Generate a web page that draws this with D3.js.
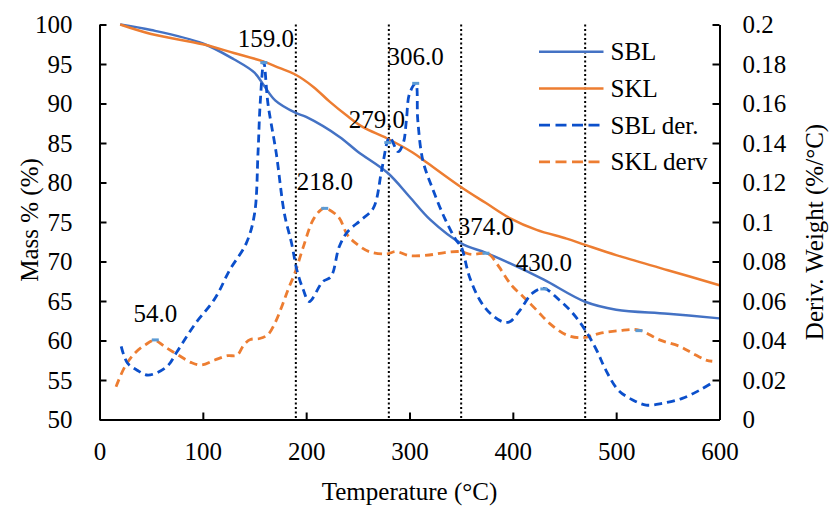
<!DOCTYPE html>
<html>
<head>
<meta charset="utf-8">
<script src="https://cdn.jsdelivr.net/npm/d3@7"></script>
<style>
    body { margin: 0; background: #fff; }
    text { font-family: "Liberation Serif", "Times New Roman", Times, "DejaVu Serif", "Noto Serif", serif; fill: #000; }
</style>
</head>
<body>
<div id="svg-container"></div>
<script>
// mass curves (TG)
var sblTemp = [20, 50, 100, 130, 150, 159, 170, 190, 200, 232, 250, 279, 300, 320, 350, 374, 400, 430, 470, 500, 550, 600];
var sblMass = [100, 99.3, 97.6, 95.6, 93.9, 92.3, 90.4, 88.8, 88.3, 85.8, 83.9, 81.2, 78.2, 75.3, 72.3, 71.1, 69.6, 67.7, 64.9, 63.9, 63.4, 62.8];
var sklTemp = [20, 50, 100, 130, 159, 174, 189, 207, 223, 239, 255, 278, 303, 316, 349, 374, 397, 423, 452, 470, 500, 550, 600];
var sklMass = [100, 98.8, 97.5, 96.4, 95.3, 94.5, 93.7, 92.1, 90.2, 88.5, 87.0, 85.6, 83.8, 82.6, 79.5, 77.4, 75.5, 74.0, 72.9, 72.1, 70.8, 68.9, 67.0];

// derivative curves (DTG)
var sblDerTemp = [21, 27, 36, 47, 65, 75, 92, 112, 126, 142, 150, 153.4, 155.5, 159, 163, 171, 179, 186, 191, 197, 203, 216, 224, 232, 240, 253, 265, 273, 279, 281, 289, 294, 297, 300, 306, 308, 313, 323, 334, 345, 350, 358, 368, 378, 390, 397, 407, 419, 430, 445, 458, 470, 481, 490, 502, 516, 529, 545, 564, 581, 593];
var sblDerVal = [0.037, 0.0286, 0.0251, 0.0225, 0.0267, 0.0343, 0.048, 0.0615, 0.0757, 0.0892, 0.104, 0.135, 0.160, 0.181, 0.160, 0.135, 0.104, 0.089, 0.0757, 0.066, 0.0597, 0.0698, 0.0723, 0.0875, 0.095, 0.101, 0.107, 0.126, 0.1415, 0.143, 0.1356, 0.140, 0.1516, 0.165, 0.170, 0.1516, 0.131, 0.116, 0.102, 0.0909, 0.0875, 0.0723, 0.0605, 0.0538, 0.0495, 0.0495, 0.0554, 0.064, 0.0664, 0.0605, 0.0538, 0.0453, 0.0352, 0.025, 0.0149, 0.0099, 0.0073, 0.0082, 0.0107, 0.0149, 0.0186];
var sklDerTemp = [16, 24.5, 34, 44, 53.5, 63, 76, 89, 98.6, 111.5, 124, 133, 140, 146, 155, 163, 170, 177, 183, 189, 197, 206.6, 214, 218, 231, 240, 248.5, 261, 277.6, 287, 300, 319, 334, 349, 360, 374, 378, 387, 395, 400, 410, 423, 435.5, 452, 468, 484, 503, 522, 542, 562, 574, 587, 593];
var sklDerVal = [0.0166, 0.0267, 0.0335, 0.0377, 0.0401, 0.0369, 0.0327, 0.0288, 0.0276, 0.0301, 0.0323, 0.0325, 0.038, 0.0405, 0.041, 0.043, 0.049, 0.058, 0.0665, 0.074, 0.087, 0.101, 0.106, 0.107, 0.1027, 0.0934, 0.089, 0.085, 0.0838, 0.085, 0.083, 0.0833, 0.0845, 0.085, 0.0836, 0.0842, 0.0833, 0.077, 0.0706, 0.0672, 0.0622, 0.0554, 0.0487, 0.0428, 0.0414, 0.0436, 0.045, 0.0453, 0.0403, 0.0369, 0.0335, 0.0301, 0.0295];

// peak markers
var peakTemp = [54, 159, 218, 279, 306, 374, 430, 522];
var peakVal = [0.0403, 0.1807, 0.1069, 0.1402, 0.1702, 0.0842, 0.0661, 0.045];
var peakLabel = ["54.0", "159.0", "218.0", "279.0", "306.0", "374.0", "430.0", ""];

// dotted region dividers
var dividers = [190, 280, 350, 470];

var xTicks = [0, 100, 200, 300, 400, 500, 600];
var massTicks = [50, 55, 60, 65, 70, 75, 80, 85, 90, 95, 100];
var derTicks = [0, 0.02, 0.04, 0.06, 0.08, 0.1, 0.12, 0.14, 0.16, 0.18, 0.2];

var seriesNames = ["SBL", "SKL", "SBL der.", "SKL derv"];
var seriesColors = ["#4472C4", "#ED7D31", "#0B4FCB", "#ED7D31"];

var FONT = "25px";

class ChartMain {
    constructor() {
        this.W = 830;
        this.H = 506;
        this.m = {left: 99.5, top: 24.5, right: 110.5, bottom: 86.5};
        this.w = this.W - this.m.left - this.m.right;
        this.h = this.H - this.m.top - this.m.bottom;
        this.buildScales();
        this.draw();
    }

    buildScales() {
        this.x = d3.scaleLinear().domain([0, 600]).range([0, this.w]);
        this.yMass = d3.scaleLinear().domain([50, 100]).range([this.h, 0]);
        this.yDer = d3.scaleLinear().domain([0, 0.2]).range([this.h, 0]);
    }

    draw() {
        let svg = d3.select("#svg-container").append("svg")
            .attr("width", this.W)
            .attr("height", this.H);
        let g = svg.append("g").attr("transform", `translate(${this.m.left},${this.m.top})`);

        // dotted verticals
        g.selectAll(".divider").data(dividers).enter().append("line")
            .attr("x1", d => this.x(d)).attr("x2", d => this.x(d))
            .attr("y1", 0).attr("y2", this.h)
            .style("stroke", "#000")
            .style("stroke-width", 2)
            .style("stroke-dasharray", "2,2.5");

        let line = (xs, ys, sc) => d3.line()
            .x((d, i) => this.x(xs[i]))
            .y((d, i) => sc(ys[i]))
            .curve(d3.curveCatmullRom.alpha(0.5))(xs);

        let curves = [
            [sblTemp, sblMass, this.yMass, 0, null],
            [sklTemp, sklMass, this.yMass, 1, null],
            [sklDerTemp, sklDerVal, this.yDer, 3, "8,5"],
            [sblDerTemp, sblDerVal, this.yDer, 2, "8,5"]
        ];
        curves.forEach(c => {
            g.append("path")
                .attr("d", line(c[0], c[1], c[2]))
                .style("fill", "none")
                .style("stroke", seriesColors[c[3]])
                .style("stroke-width", c[4] ? 2.8 : 2.5)
                .style("stroke-dasharray", c[4]);
        });

        // axes
        let axL = g.append("g").call(d3.axisLeft(this.yMass).tickValues(massTicks).tickSizeInner(-7).tickSizeOuter(0).tickPadding(27));
        let axR = g.append("g").attr("transform", `translate(${this.w},0)`)
            .call(d3.axisRight(this.yDer).tickValues(derTicks).tickSizeInner(-7).tickSizeOuter(0).tickPadding(23).tickFormat(d => d3.format("~g")(d)));
        let axB = g.append("g").attr("transform", `translate(0,${this.h})`)
            .call(d3.axisBottom(this.x).tickValues(xTicks).tickSizeInner(-7).tickSizeOuter(0).tickPadding(23));
        [axL, axR, axB].forEach(a => {
            a.attr("font-family", null).attr("font-size", null);
            a.selectAll("path, line").style("stroke", "#000").style("stroke-width", 2);
            a.selectAll("text").style("font-size", FONT).style("fill", "#000");
        });

        // peak markers and labels
        let shift = {"279.0": [-11, -15], "159.0": [2, -16]};
        peakTemp.forEach((t, i) => {
            let px = this.x(t), py = this.yDer(peakVal[i]);
            g.append("line")
                .attr("x1", px - 3.5).attr("x2", px + 3.5)
                .attr("y1", py).attr("y2", py)
                .style("stroke", "#5B9BD5").style("stroke-width", 3);
            if (peakLabel[i] !== "") {
                let s = shift[peakLabel[i]] || [0, -18];
                g.append("text")
                    .attr("x", px + s[0]).attr("y", py + s[1])
                    .attr("text-anchor", "middle")
                    .style("font-size", FONT)
                    .text(peakLabel[i]);
            }
        });

        // axis titles
        svg.append("text")
            .attr("x", this.m.left + this.w / 2).attr("y", 500)
            .attr("text-anchor", "middle").style("font-size", FONT)
            .text("Temperature (°C)");
        svg.append("text")
            .attr("transform", `translate(38,${this.m.top + this.h / 2 - 2}) rotate(-90)`)
            .attr("text-anchor", "middle").style("font-size", FONT)
            .text("Mass % (%)");
        svg.append("text")
            .attr("transform", `translate(823,${this.m.top + this.h / 2 + 10}) rotate(-90)`)
            .attr("text-anchor", "middle").style("font-size", FONT)
            .text("Deriv. Weight (%/°C)");

        // legend
        let leg = svg.append("g");
        seriesNames.forEach((n, i) => {
            let ly = 51.7 + i * 36.7;
            leg.append("line")
                .attr("x1", 539).attr("x2", 603.5)
                .attr("y1", ly).attr("y2", ly)
                .style("stroke", seriesColors[i])
                .style("stroke-width", i < 2 ? 2.5 : 2.8)
                .style("stroke-dasharray", i < 2 ? null : "11,5.5");
            leg.append("text")
                .attr("x", 610.5).attr("y", ly + 8.5)
                .style("font-size", FONT)
                .text(n);
        });
    }
}

new ChartMain();
</script>
</body>
</html>
